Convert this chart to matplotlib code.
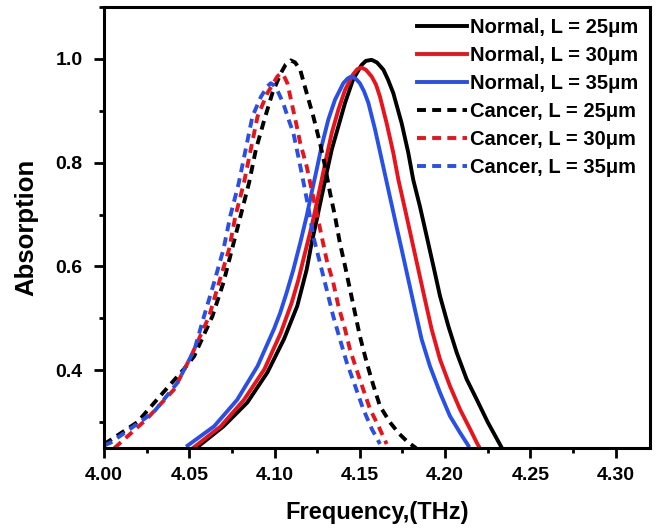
import matplotlib
matplotlib.use("Agg")
import matplotlib.pyplot as plt
from matplotlib.ticker import MultipleLocator, FormatStrFormatter

plt.rcParams['font.family'] = ['Liberation Sans', 'DejaVu Sans']
plt.rcParams['font.weight'] = 'bold'

# Normal tissue, L = 25 um
n25_x = [4.0547, 4.070, 4.084, 4.0958, 4.1055, 4.1133, 4.1188, 4.1217, 4.1247, 4.1276,
         4.1305, 4.1335, 4.1374, 4.1413, 4.146, 4.151, 4.1535, 4.1569, 4.160, 4.1638,
         4.1665, 4.1696, 4.1745, 4.1784, 4.1813, 4.1852, 4.1892, 4.1931, 4.197, 4.2019,
         4.2068, 4.2126, 4.2185, 4.225, 4.233]
n25_y = [0.252, 0.292, 0.338, 0.396, 0.460, 0.524, 0.594, 0.645, 0.690, 0.735,
         0.780, 0.825, 0.870, 0.915, 0.960, 0.988, 0.996, 0.998, 0.993, 0.979,
         0.960, 0.934, 0.876, 0.819, 0.767, 0.716, 0.658, 0.601, 0.543, 0.485,
         0.434, 0.383, 0.344, 0.300, 0.252]
# Normal tissue, L = 30 um
n30_x = [4.0528, 4.0684, 4.082, 4.094, 4.1036, 4.110, 4.114, 4.1178, 4.1217, 4.1247,
         4.1276, 4.1305, 4.1335, 4.1374, 4.1413, 4.146, 4.1485, 4.151, 4.1535, 4.1569,
         4.1595, 4.1618, 4.1657, 4.1696, 4.1726, 4.1765, 4.1804, 4.1843, 4.1882, 4.1921,
         4.197, 4.2028, 4.2087, 4.2146, 4.2185, 4.220]
n30_y = [0.252, 0.292, 0.343, 0.402, 0.472, 0.530, 0.575, 0.626, 0.677, 0.722,
         0.767, 0.812, 0.857, 0.902, 0.940, 0.970, 0.980, 0.983, 0.979, 0.966,
         0.950, 0.927, 0.876, 0.819, 0.767, 0.710, 0.652, 0.594, 0.536, 0.479,
         0.421, 0.370, 0.325, 0.287, 0.261, 0.252]
# Normal tissue, L = 35 um
n35_x = [4.049, 4.0645, 4.078, 4.090, 4.0997, 4.1032, 4.107, 4.111, 4.115, 4.1188,
         4.1217, 4.1247, 4.1276, 4.1315, 4.1354, 4.1403, 4.1428, 4.145, 4.1475, 4.150,
         4.1525, 4.155, 4.1589, 4.1628, 4.1667, 4.1706, 4.1745, 4.1784, 4.1823, 4.1862,
         4.1911, 4.197, 4.2028, 4.2087, 4.2136]
n35_y = [0.255, 0.292, 0.343, 0.408, 0.480, 0.510, 0.549, 0.594, 0.645, 0.697,
         0.742, 0.787, 0.832, 0.883, 0.921, 0.953, 0.962, 0.966, 0.962, 0.953,
         0.937, 0.915, 0.864, 0.806, 0.748, 0.690, 0.633, 0.575, 0.517, 0.460,
         0.408, 0.357, 0.312, 0.280, 0.255]
# Cancer tissue, L = 25 um
c25_x = [4.000, 4.003, 4.0195, 4.033, 4.047, 4.0528, 4.0635, 4.070, 4.075, 4.080,
         4.085, 4.089, 4.094, 4.0987, 4.1036, 4.1065, 4.1095, 4.112, 4.115, 4.1188,
         4.1227, 4.1266, 4.1296, 4.1325, 4.1354, 4.1383, 4.1413, 4.1442, 4.1471, 4.150,
         4.154, 4.158, 4.1618, 4.1676, 4.173, 4.178, 4.183]
c25_y = [0.258, 0.264, 0.300, 0.351, 0.403, 0.427, 0.504, 0.569, 0.633, 0.697,
         0.761, 0.825, 0.883, 0.934, 0.972, 0.989, 0.997, 0.993, 0.979, 0.934,
         0.889, 0.838, 0.793, 0.742, 0.697, 0.645, 0.601, 0.556, 0.511, 0.466,
         0.415, 0.370, 0.331, 0.300, 0.278, 0.262, 0.250]
# Cancer tissue, L = 30 um
c30_x = [4.006, 4.025, 4.041, 4.051, 4.0616, 4.0674, 4.0733, 4.077, 4.082, 4.086,
         4.090, 4.0958, 4.1016, 4.1036, 4.1055, 4.1075, 4.110, 4.113, 4.115, 4.1188,
         4.1217, 4.1247, 4.1276, 4.1305, 4.1344, 4.1374, 4.1413, 4.1442, 4.148, 4.152,
         4.156, 4.161, 4.1657]
c30_y = [0.250, 0.306, 0.363, 0.427, 0.504, 0.569, 0.633, 0.697, 0.761, 0.825,
         0.889, 0.934, 0.966, 0.972, 0.967, 0.953, 0.915, 0.870, 0.838, 0.793,
         0.748, 0.703, 0.658, 0.613, 0.569, 0.524, 0.479, 0.440, 0.402, 0.363,
         0.325, 0.292, 0.258]
# Cancer tissue, L = 35 um
c35_x = [4.000, 4.004, 4.029, 4.043, 4.053, 4.0586, 4.0645, 4.070, 4.074, 4.079,
         4.083, 4.087, 4.092, 4.0958, 4.0977, 4.0996, 4.1015, 4.105, 4.108, 4.111,
         4.1139, 4.117, 4.120, 4.1227, 4.1266, 4.1305, 4.1344, 4.1383, 4.1423, 4.1472,
         4.152, 4.157, 4.1618]
c35_y = [0.255, 0.261, 0.319, 0.376, 0.440, 0.504, 0.569, 0.633, 0.697, 0.761,
         0.825, 0.889, 0.927, 0.947, 0.953, 0.949, 0.940, 0.915, 0.885, 0.857,
         0.812, 0.761, 0.710, 0.658, 0.607, 0.556, 0.504, 0.460, 0.415, 0.370,
         0.325, 0.287, 0.258]

labels = ["Normal, L = 25μm", "Normal, L = 30μm", "Normal, L = 35μm",
          "Cancer, L = 25μm", "Cancer, L = 30μm", "Cancer, L = 35μm"]

fig = plt.figure(figsize=(6.63, 5.31), dpi=100)
ax = fig.add_axes([0.157, 0.156, 0.823, 0.831])

lw = 2.8
red = '#e8141c'
blue = '#2850e8'
dash = (0, (2.3, 1.6))
kw = dict(lw=lw, solid_joinstyle='round', dash_capstyle='butt')
ax.plot(n25_x, n25_y, color='black', label=labels[0], **kw)
ax.plot(n30_x, n30_y, color=red, label=labels[1], **kw)
ax.plot(n35_x, n35_y, color=blue, label=labels[2], **kw)
ax.plot(c25_x, c25_y, color='black', ls=dash, label=labels[3], **kw)
ax.plot(c30_x, c30_y, color=red, ls=dash, label=labels[4], **kw)
ax.plot(c35_x, c35_y, color=blue, ls=dash, label=labels[5], **kw)

ax.set_xlim(4.0, 4.32)
ax.set_ylim(0.25, 1.1)
ax.xaxis.set_major_locator(MultipleLocator(0.05))
ax.xaxis.set_minor_locator(MultipleLocator(0.025))
ax.yaxis.set_major_locator(MultipleLocator(0.2))
ax.yaxis.set_minor_locator(MultipleLocator(0.1))
ax.xaxis.set_major_formatter(FormatStrFormatter('%.2f'))
ax.yaxis.set_major_formatter(FormatStrFormatter('%.1f'))

for s in ax.spines.values():
    s.set_linewidth(2.2)
ax.tick_params(which='major', direction='out', length=7.5, width=2, labelsize=14)
ax.tick_params(axis='x', which='major', pad=6)
ax.tick_params(axis='y', which='major', pad=8)
ax.tick_params(which='minor', direction='out', length=3.5, width=2)
for t in ax.get_xticklabels() + ax.get_yticklabels():
    t.set_fontweight('bold')

ax.set_xlabel("Frequency,(THz)", fontsize=17, fontweight='bold', labelpad=12)
ax.set_ylabel("Absorption", fontsize=18.5, fontweight='bold', labelpad=12)

leg = ax.legend(loc='upper right', frameon=False,
                handlelength=2.5, handletextpad=0.15, labelspacing=0.45,
                borderaxespad=0.15, prop={'weight': 'bold', 'size': 14.5})

fig.savefig("out.png", dpi=100)
